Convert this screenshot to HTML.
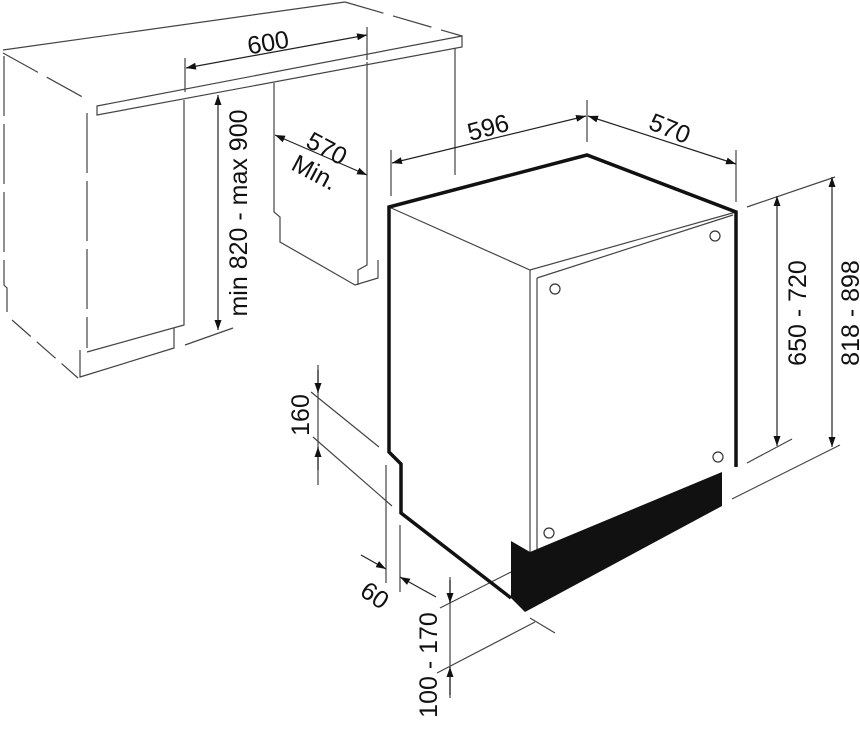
<!DOCTYPE html>
<html><head><meta charset="utf-8"><style>
html,body{margin:0;padding:0;background:#fff;}
svg{display:block}
text{font-family:"Liberation Sans",sans-serif;fill:#111;font-size:25px}
</style></head><body>
<svg width="860" height="735" viewBox="0 0 860 735" xmlns="http://www.w3.org/2000/svg">
<defs>
<marker id="a" viewBox="0 0 10 10" refX="10" refY="5" markerWidth="10" markerHeight="10" orient="auto-start-reverse" markerUnits="userSpaceOnUse"><path d="M0,1.5 L10,5 L0,8.5 z" fill="#111"/></marker>
</defs>
<g stroke="#444" stroke-width="1.2" fill="none">
<path d="M3,50 L345,2" />
<path d="M345,2 L462,36" stroke-dasharray="40,10"/>
<path d="M3,53 L88,100" stroke-dasharray="40,10"/>
<path d="M97,106 L462,36 L462,47 L97,115 Z"/>
<path d="M4,56 L4,285 L7,288 L7,312" stroke-dasharray="60,8"/>
<path d="M12,320 L78,378" stroke-dasharray="25,8"/>
<path d="M87,113 L87,348" stroke-dasharray="60,8"/>
<path d="M184,100 L184,325 L87,352"/>
<path d="M80,350 L80,377 L174,348 L174,328"/>
<path d="M274,83 L274,212 L280,217 L280,242 L355,285 L378,278 L378,260"/>
<path d="M367,62 L367,265 L358,270 L358,285"/>
<path d="M455,48 L455,175"/>
<path d="M185,58 L185,92"/>
<path d="M367,27 L367,60"/>
<path d="M185,345 L233,328"/>
<path d="M389,207 L530,270 L736,212"/>
<path d="M530,270 L530,553"/>
<path d="M537,278 L733,215"/>
<path d="M537,278 L537,557"/>
<path d="M391,150 L391,196"/>
<path d="M587,100 L587,142"/>
<path d="M736,150 L736,202"/>
<path d="M747,207 L835,177"/>
<path d="M747,463 L792,439"/>
<path d="M732,499 L840,445"/>
<path d="M311,392 L379,447"/>
<path d="M313,437 L392,506"/>
<path d="M318,365 L318,485"/>
<path d="M386,465 L386,583"/>
<path d="M400,525 L400,592"/>
<path d="M440,608 L511,572"/>
<path d="M437,673 L535,622"/>
<path d="M530,618 L555,633"/>
<path d="M450,577 L450,698"/>
</g>
<g stroke="#222" stroke-width="1.2" fill="none">
<line x1="186" y1="68" x2="367" y2="35" marker-start="url(#a)" marker-end="url(#a)"/>
<line x1="218" y1="95" x2="218" y2="330" marker-start="url(#a)" marker-end="url(#a)"/>
<line x1="275" y1="135" x2="367" y2="175" marker-start="url(#a)" marker-end="url(#a)"/>
<line x1="392" y1="163" x2="586" y2="116" marker-start="url(#a)" marker-end="url(#a)"/>
<line x1="588" y1="116" x2="736" y2="164" marker-start="url(#a)" marker-end="url(#a)"/>
<line x1="777" y1="196" x2="777" y2="446" marker-start="url(#a)" marker-end="url(#a)"/>
<line x1="832" y1="177" x2="832" y2="447" marker-start="url(#a)" marker-end="url(#a)"/>
<line x1="318" y1="370" x2="318" y2="393" marker-end="url(#a)"/>
<line x1="318" y1="470" x2="318" y2="447" marker-end="url(#a)"/>
<line x1="361" y1="555" x2="386" y2="569" marker-end="url(#a)"/>
<line x1="436" y1="597" x2="400" y2="577" marker-end="url(#a)"/>
<line x1="450" y1="580" x2="450" y2="603" marker-end="url(#a)"/>
<line x1="450" y1="695" x2="450" y2="667" marker-end="url(#a)"/>
</g>
<path d="M736,467 L736,212 L587,155 L389,207 L389,452 L401,464 L401,513 L511,598" stroke="#111" stroke-width="3.5" fill="none"/>
<path d="M511,541 L530,552 L722,472 L722,506 L525,612 L511,598 Z" fill="#111"/>
<g stroke="#333" stroke-width="1.2" fill="#fff">
<circle cx="555" cy="289" r="5"/>
<circle cx="715" cy="236" r="5"/>
<circle cx="718" cy="457" r="5"/>
<circle cx="549" cy="533" r="5"/>
</g>
<text x="268" y="51" text-anchor="middle" transform="rotate(-10 268 42)">600</text>
<text x="238" y="222" text-anchor="middle" transform="rotate(-90 238 213)">min 820 - max 900</text>
<text x="327" y="157" text-anchor="middle" transform="rotate(28 327 148)">570</text>
<text x="315" y="181" text-anchor="middle" transform="rotate(28 315 172)">Min.</text>
<text x="488" y="136" text-anchor="middle" transform="rotate(-15 488 127)">596</text>
<text x="670" y="137" text-anchor="middle" transform="rotate(22 670 128)">570</text>
<text x="797" y="322" text-anchor="middle" transform="rotate(-90 797 313)">650 - 720</text>
<text x="850" y="322" text-anchor="middle" transform="rotate(-90 850 313)">818 - 898</text>
<text x="300" y="424" text-anchor="middle" transform="rotate(-90 300 415)">160</text>
<text x="375" y="604" text-anchor="middle" transform="rotate(35 375 595)">60</text>
<text x="428" y="674" text-anchor="middle" transform="rotate(-90 428 665)">100 - 170</text>
</svg>
</body></html>
